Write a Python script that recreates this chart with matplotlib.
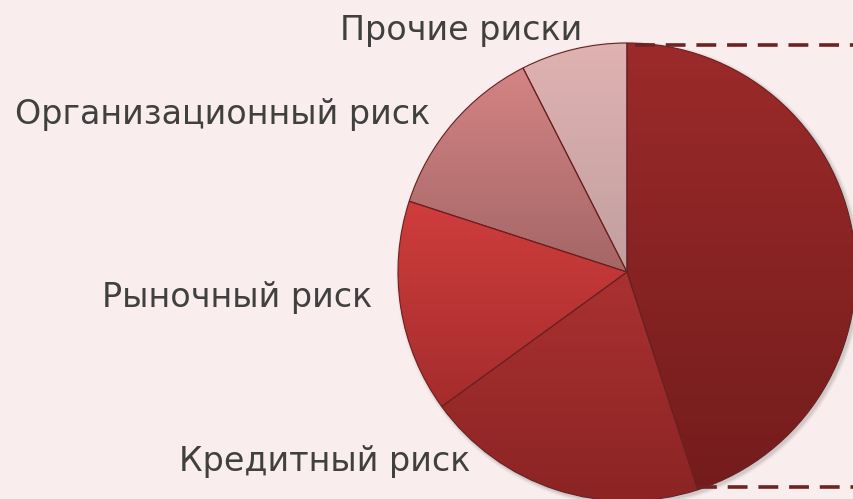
import numpy as np
import matplotlib
matplotlib.use('Agg')
import matplotlib.pyplot as plt
from matplotlib.colors import LinearSegmentedColormap
from matplotlib.patches import Circle

plt.rcParams['font.family'] = ['DejaVu Sans']

# Data (shares of the pie, clockwise from 12 o'clock)
categories = ['', 'Кредитный риск', 'Рыночный риск', 'Организационный риск', 'Прочие риски']
values = [45.0, 20.0, 15.0, 12.5, 7.5]

# per-slice vertical gradient (top, bottom)
top_colors = ['#9c2a2a', '#aa3131', '#d03d3d', '#d48484', '#e0b2b2']
bottom_colors = ['#741c1c', '#8c2424', '#a52c2c', '#a56666', '#c29f9f']

W, H = 854, 499
fig = plt.figure(figsize=(W / 100, H / 100), dpi=100)
fig.patch.set_facecolor('#f9eded')
ax = fig.add_axes([0, 0, 1, 1])
ax.set_facecolor('#f9eded')

cx, cy, r = 627, H - 272, 229

# soft shadow
for i, a in enumerate([0.10, 0.07, 0.05, 0.03]):
    ax.add_patch(Circle((cx + 2, cy - 2), r + 1 + i, color='#555555', alpha=a,
                        lw=0, zorder=-2))
ax.add_patch(Circle((cx, cy), r, color='#f9eded', lw=0, zorder=-1))

wedges, _ = ax.pie(values, startangle=90, counterclock=False,
                   center=(cx, cy), radius=r,
                   wedgeprops=dict(edgecolor='#6a2020', linewidth=0.8))

grad = np.linspace(0, 1, 256).reshape(-1, 1)
for w, c0, c1 in zip(wedges, top_colors, bottom_colors):
    ext = w.get_path().get_extents()
    cmap = LinearSegmentedColormap.from_list('g', [c1, c0])
    im = ax.imshow(grad, cmap=cmap, origin='lower', aspect='auto',
                   extent=[ext.x0, ext.x1, ext.y0, ext.y1], zorder=0.5)
    im.set_clip_path(w)
    w.set_facecolor('none')
    w.set_zorder(1)

# connector lines to the secondary chart
ax.plot([635, W], [H - 45, H - 45], color='#702222', lw=2.6,
        linestyle=(0, (5.5, 3)), solid_capstyle='butt')
ax.plot([697, W], [H - 487, H - 487], color='#702222', lw=2.6,
        linestyle=(0, (5.5, 3)), solid_capstyle='butt')

# labels
label_pos = {
    'Кредитный риск': (470, 462),
    'Рыночный риск': (372, 298),
    'Организационный риск': (430, 114),
    'Прочие риски': (582, 30),
}
for name in categories:
    if not name:
        continue
    x, y = label_pos[name]
    ax.text(x, H - y, name, ha='right', va='center', fontsize=24,
            color='#404040')

ax.set_xlim(0, W)
ax.set_ylim(0, H)
ax.set_aspect('auto')
ax.axis('off')

fig.savefig('out.png', dpi=100, facecolor=fig.get_facecolor())
